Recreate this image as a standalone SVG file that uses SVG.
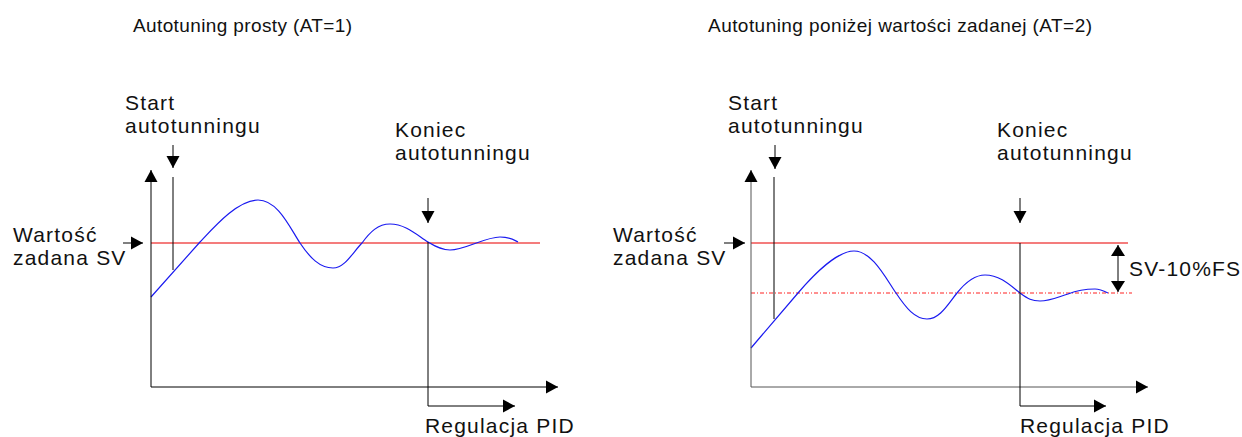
<svg xmlns="http://www.w3.org/2000/svg" width="1242" height="437" viewBox="0 0 1242 437">
<style>
.t{font-family:"Liberation Sans",Arial,sans-serif;fill:#111;}
.lab{font-size:21px;letter-spacing:1.2px;}
.title{font-size:19px;}
.ax{stroke:#000;stroke-width:1;fill:none;}
.axg{stroke:#555;stroke-width:1;fill:none;}
.ln{stroke:#000;stroke-width:1;fill:none;}
.sv{stroke:#F47C7C;stroke-width:2;fill:none;}
.dot{stroke:#FF2020;stroke-width:1;fill:none;stroke-dasharray:4 2 1 2;}
.pv{stroke:#1A1AF0;stroke-width:1.2;fill:none;stroke-linejoin:round;}
</style>
<defs>
<marker id="ah" markerUnits="userSpaceOnUse" markerWidth="14" markerHeight="14" viewBox="0 0 14 14" refX="13" refY="7" orient="auto">
<path d="M1,0.5 L13,7 L1,13.5 Z" fill="#000"/>
</marker>
<marker id="ahs" markerUnits="userSpaceOnUse" markerWidth="14" markerHeight="14" viewBox="0 0 14 14" refX="12" refY="7" orient="auto">
<path d="M0,0.5 L12,7 L0,13.5 Z" fill="#000"/>
</marker>
<marker id="ahd" markerUnits="userSpaceOnUse" markerWidth="14" markerHeight="16" viewBox="0 0 12 16" refX="11" refY="8" orient="auto-start-reverse">
<path d="M0,1 L11,8 L0,15 Z" fill="#000"/>
</marker>
</defs>

<g id="left-panel">
<text id="title-left" class="t title" x="133" y="32" textLength="219" lengthAdjust="spacing">Autotuning prosty (AT=1)</text>
<g id="start-left"><text class="t lab" x="125" y="110">Start</text><text class="t lab" x="125" y="133">autotunningu</text></g>
<g id="koniec-left"><text class="t lab" x="395" y="137">Koniec</text><text class="t lab" x="395" y="160">autotunningu</text></g>
<g id="sv-left"><text class="t lab" x="13" y="242">Wartość</text><text class="t lab" x="13" y="265">zadana SV</text></g>
<g id="pid-left"><text class="t lab" x="425" y="433">Regulacja PID</text></g>
<line id="setpoint-left" class="sv" x1="151" y1="243" x2="540" y2="243"/>
<path id="pv-left" class="pv" d="M151,297 L200,242 C215,226 238,200 258,200 C278,200 290,228 300,243 C310,258 320,268 333,268 C345,268 353,252 362,243 C370,232 378,224 390,224 C406,224 418,236 428,242 C438,248 443,250 450,250 C465,250 485,237 500,237 C510,237 514,240 518,242"/>
</g>

<g id="right-panel">
<text id="title-right" class="t title" x="708" y="32" textLength="384" lengthAdjust="spacing">Autotuning poniżej wartości zadanej (AT=2)</text>
<g id="start-right"><text class="t lab" x="728" y="110">Start</text><text class="t lab" x="728" y="133">autotunningu</text></g>
<g id="koniec-right"><text class="t lab" x="997" y="137">Koniec</text><text class="t lab" x="997" y="160">autotunningu</text></g>
<g id="sv-right"><text class="t lab" x="613" y="242">Wartość</text><text class="t lab" x="613" y="265">zadana SV</text></g>
<g id="pid-right"><text class="t lab" x="1020" y="433">Regulacja PID</text></g>
<g id="fs-label"><text class="t lab" x="1129" y="276">SV-10%FS</text></g>
<line id="setpoint-right" class="sv" x1="751" y1="243" x2="1128" y2="243"/>
<line id="lowered-setpoint" class="dot" x1="751" y1="293" x2="1132" y2="293"/>
<path id="pv-right" class="pv" d="M751,348 L798,293 C815,273 838,251 854,251 C872,251 885,277 896,293 C906,308 915,319 927,319 C940,319 948,304 957,293 C965,283 975,275 985,275 C1000,275 1010,285 1020,293 C1028,299 1032,301 1040,301 C1050,301 1058,297 1068,294 C1078,290 1086,289 1095,289 C1100,289 1104,291 1108,293"/>
</g>

<g id="connectors">
<polyline class="ax" points="151,387 151,170" marker-end="url(#ah)"/>
<polyline class="ax" points="151,387 558,387" marker-end="url(#ah)"/>
<line class="ln" x1="173" y1="145" x2="173" y2="168" marker-end="url(#ahs)"/>
<line class="ln" x1="173" y1="177" x2="173" y2="270"/>
<line class="ln" x1="428" y1="198" x2="428" y2="223" marker-end="url(#ahs)"/>
<polyline class="ln" points="428,242 428,406 515,406" marker-end="url(#ahs)"/>
<line class="ln" x1="123" y1="243" x2="143" y2="243" marker-end="url(#ahs)"/>
<polyline class="axg" points="751,387 751,170" marker-end="url(#ah)"/>
<polyline class="axg" points="751,387 1148,387" marker-end="url(#ah)"/>
<line class="ln" x1="775" y1="145" x2="775" y2="169" marker-end="url(#ahs)"/>
<line class="ln" x1="774" y1="177" x2="774" y2="319"/>
<line class="ln" x1="1020" y1="198" x2="1020" y2="223" marker-end="url(#ahs)"/>
<polyline class="ln" points="1020,243 1020,406 1106,406" marker-end="url(#ahs)"/>
<line class="ln" x1="724" y1="243" x2="745" y2="243" marker-end="url(#ahs)"/>
<line class="ln" x1="1118" y1="245" x2="1118" y2="292" marker-start="url(#ahd)" marker-end="url(#ahd)"/>
</g>
</svg>
